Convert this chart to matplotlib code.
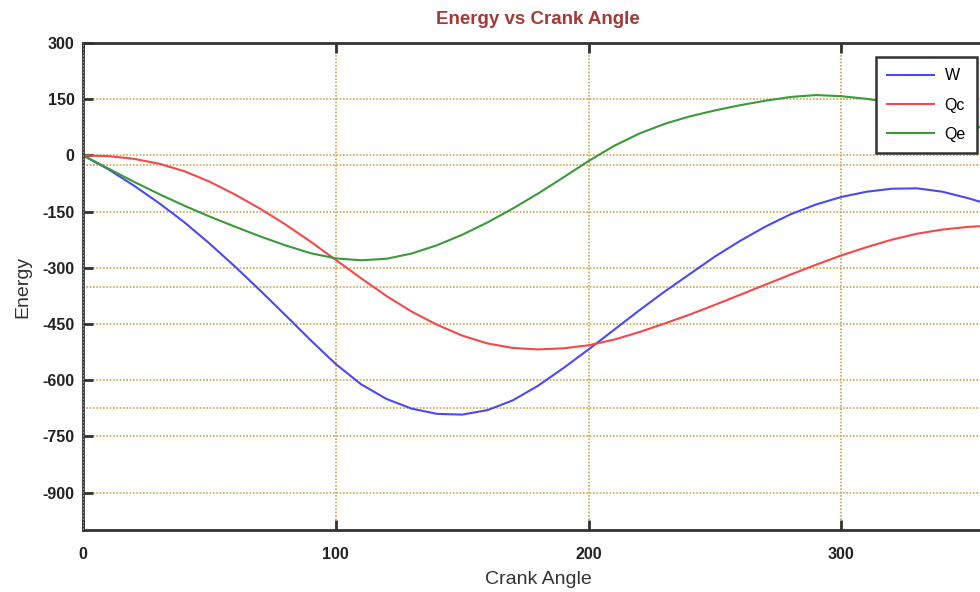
#!/usr/bin/env python3
"""Energy vs Crank Angle：W、Qc、Qe 三條曲線，輸出 out.png。"""

import matplotlib
matplotlib.use("Agg")
import matplotlib.pyplot as plt

# 曲軸角度（度）
angle = [0, 10, 20, 30, 40, 50, 60, 70, 80, 90, 100, 110, 120, 130, 140, 150,
         160, 170, 180, 190, 200, 210, 220, 230, 240, 250, 260, 270, 280, 290,
         300, 310, 320, 330, 340, 350, 360]

W = [0, -37, -80, -127, -178, -235, -296, -360, -426, -493, -557, -611, -650,
     -676, -690, -692, -680, -654, -615, -568, -518, -466, -414, -364, -317,
     -270, -228, -190, -157, -131, -111, -97, -89, -88, -97, -114, -134]

Qc = [0, -2, -9, -22, -42, -70, -104, -142, -184, -230, -279, -328, -375,
      -417, -452, -481, -502, -514, -518, -515, -507, -492, -472, -449, -425,
      -399, -372, -345, -318, -292, -267, -245, -225, -209, -198, -191, -187]

Qe = [0, -35, -70, -103, -134, -163, -190, -216, -240, -261, -275, -280, -276,
      -262, -240, -212, -179, -142, -102, -59, -15, 25, 58, 84, 104, 120, 134,
      146, 156, 161, 158, 151, 141, 127, 109, 87, 62]

x_ticks = [0, 100, 200, 300]
y_ticks = [300, 150, 0, -150, -300, -450, -600, -750, -900]
extra_grid = [-25, -350, -675]   # 圖上另外幾條虛線

GRID = "#d2a64a"
EDGE = "#333333"

plt.rcParams["font.family"] = ["Liberation Sans", "DejaVu Sans"]
plt.rcParams["axes.unicode_minus"] = False

fig = plt.figure(figsize=(9.8, 5.92), dpi=100)
# 右側超出畫布，原圖就是被裁掉的
ax = fig.add_axes([83 / 980, 62 / 592, 910 / 980, 487 / 592])

for ys, c, name in ((W, "#4a4af5", "W"), (Qc, "#f54848", "Qc"),
                    (Qe, "#3a9a3a", "Qe")):
    ax.plot(angle, ys, color=c, linewidth=1.5, label=name,
            solid_joinstyle="round")

ax.set_xlim(0, 360)
ax.set_ylim(-1000, 300)
ax.set_xticks(x_ticks)
ax.set_yticks(y_ticks)

ax.grid(True, color=GRID, linestyle=(0, (1, 1)), linewidth=1.2)
for v in extra_grid:
    ax.axhline(v, color=GRID, linestyle=(0, (1, 1)), linewidth=1.2, zorder=0.5)
ax.axvline(0, color=GRID, linestyle=(0, (1, 1)), linewidth=1.2, zorder=3)

for side in ("left", "bottom", "top"):
    ax.spines[side].set_color(EDGE)
    ax.spines[side].set_linewidth(2)
ax.spines["right"].set_visible(False)

ax.tick_params(axis="both", direction="in", length=7, width=2, color=EDGE,
               labelsize=11.5, labelcolor="#222222", top=True)
ax.tick_params(axis="x", pad=12)
ax.tick_params(axis="y", pad=6)
for lab in ax.get_xticklabels() + ax.get_yticklabels():
    lab.set_fontweight("bold")

ax.set_title("Energy vs Crank Angle", color="#a83838", fontsize=13.5,
             fontweight="bold", pad=14)
ax.set_xlabel("Crank Angle", fontsize=14, color="#333333", labelpad=7)
ax.set_ylabel("Energy", fontsize=14, color="#333333", labelpad=8)

leg = ax.legend(loc="upper left", bbox_to_anchor=(876 / 980, 1 - 57 / 592),
                bbox_transform=fig.transFigure, fontsize=11.5, fancybox=False,
                framealpha=1, edgecolor=EDGE, handlelength=2.9,
                borderpad=0.7, labelspacing=0.9, handletextpad=0.7,
                borderaxespad=0)
leg.get_frame().set_linewidth(1.8)

fig.savefig("out.png", dpi=100)
